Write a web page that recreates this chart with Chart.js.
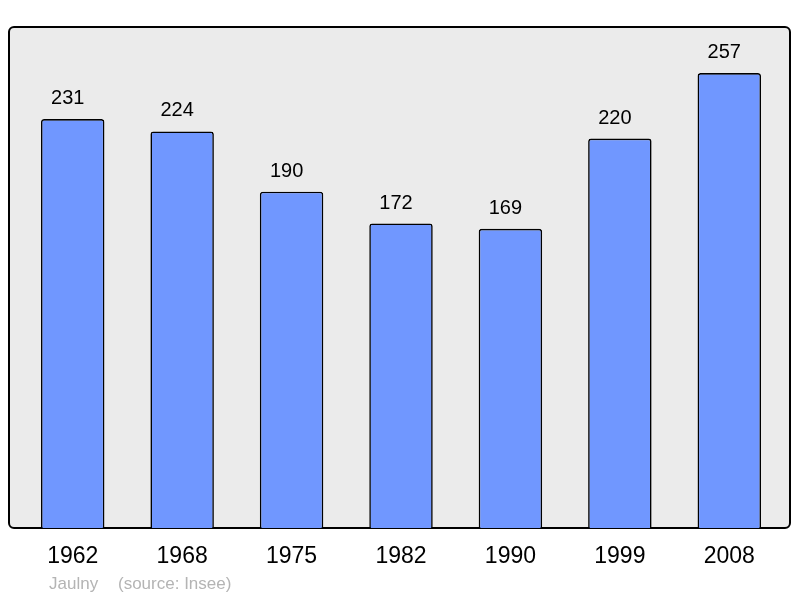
<!DOCTYPE html>
<html>
<head>
<meta charset="utf-8">
<script src="https://cdn.jsdelivr.net/npm/chart.js@4/dist/chart.umd.min.js"></script>
<style>
  html, body { margin: 0; padding: 0; background: #fff; }
  #wrap { width: 800px; height: 598px; }
</style>
</head>
<body>
<div id="wrap"><canvas id="chart" width="800" height="598"></canvas></div>
<script>
// population by census year
const years = ['1962', '1968', '1975', '1982', '1990', '1999', '2008'];
const population = [231, 224, 190, 172, 169, 220, 257];
const townName = 'Jaulny';
const sourceText = '(source: Insee)';

// grey rounded frame behind the bars
const framePlugin = {
    id: 'frame',
    beforeDraw(chart) {
        const ctx = chart.ctx;
        const area = chart.chartArea;
        const x0 = 9, x1 = 790, y0 = area.top, y1 = area.bottom;
        ctx.save();
        ctx.beginPath();
        ctx.roundRect(x0, y0, x1 - x0, y1 - y0, 5);
        ctx.fillStyle = '#ebebeb';
        ctx.fill();
        ctx.lineWidth = 2;
        ctx.strokeStyle = '#000';
        ctx.stroke();
        ctx.restore();
    },
    afterDraw(chart) {
        const ctx = chart.ctx;
        const meta = chart.getDatasetMeta(0);
        ctx.save();
        ctx.font = '20px "Liberation Sans", Arial, sans-serif';
        ctx.fillStyle = '#000';
        ctx.textAlign = 'center';
        ctx.textBaseline = 'alphabetic';
        // value labels sit a little left of the bar centre in the original
        meta.data.forEach(function (bar, i) {
            ctx.fillText(String(population[i]), bar.x - 5, bar.y - 15);
        });
        // footer
        ctx.font = '17px "Liberation Sans", Arial, sans-serif';
        ctx.fillStyle = '#b4b4b4';
        ctx.textAlign = 'left';
        ctx.fillText(townName, 49, 589);
        ctx.fillText(sourceText, 118, 589);
        ctx.restore();
    }
};

new Chart(document.getElementById('chart'), {
    type: 'bar',
    data: {
        labels: years,
        datasets: [{
            data: population,
            backgroundColor: '#7097ff',
            borderColor: '#000',
            borderWidth: 1.6,
            borderRadius: { topLeft: 3, topRight: 3 },
            borderSkipped: 'bottom',
            barPercentage: 0.58,
            categoryPercentage: 1
        }]
    },
    options: {
        responsive: false,
        animation: false,
        layout: { padding: { left: 18, right: 16, top: 27, bottom: 0 } },
        plugins: {
            legend: { display: false },
            tooltip: { enabled: false }
        },
        scales: {
            x: {
                grid: { display: false, drawTicks: false },
                border: { display: false },
                ticks: {
                    color: '#000',
                    font: { size: 23, family: '"Liberation Sans", Arial, sans-serif' },
                    padding: 15
                },
                afterFit(scale) { scale.height = 70; }
            },
            y: {
                display: false,
                min: 0,
                max: 283
            }
        }
    },
    plugins: [framePlugin]
});
</script>
</body>
</html>
